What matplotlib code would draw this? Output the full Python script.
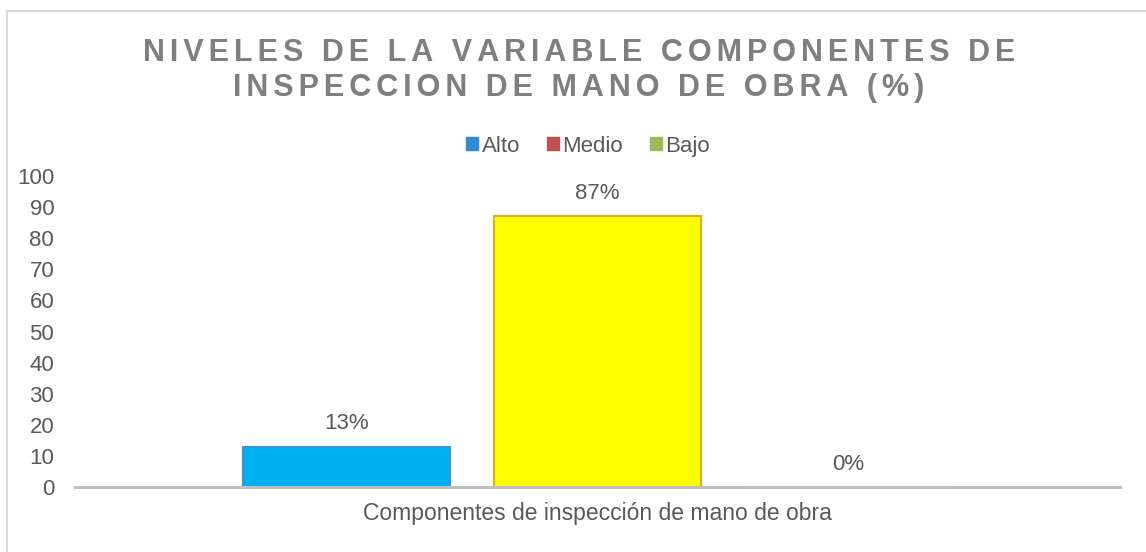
import numpy as np
import matplotlib
matplotlib.use('Agg')
import matplotlib.pyplot as plt
from matplotlib.patches import Rectangle

# datos del grafico
series = ['Alto', 'Medio', 'Bajo']
valores = [13, 87, 0]
categoria = 'Componentes de inspección de mano de obra'
titulo_l1 = 'NIVELES DE LA VARIABLE COMPONENTES DE'
titulo_l2 = 'INSPECCION DE MANO DE OBRA (%)'
yticks = [0, 10, 20, 30, 40, 50, 60, 70, 80, 90, 100]

bar_colors = ['#00B0F0', '#FFFF00', '#9BBB59']
bar_edges = ['#3A96D6', '#E2A92A', '#9BBB59']
legend_colors = ['#2E8BD0', '#C0504D', '#9BBB59']

plt.rcParams['font.family'] = ['Liberation Sans', 'DejaVu Sans']
txt_color = '#595959'

def spaced(s):
    # espaciado entre letras
    return '\u200a\u200a'.join(list(s))

fig = plt.figure(figsize=(11.46, 5.52), dpi=100)
ax = fig.add_axes([75/1146, 65/552, (1120-75)/1146, (487-176)/552])

pos = np.arange(len(series)) - 1
w = 0.825
for i in range(len(series)):
    ax.bar(pos[i], valores[i], width=w, color=bar_colors[i],
           edgecolor=bar_edges[i], linewidth=1.5, zorder=2)
    ax.annotate(f'{valores[i]}%', (pos[i], valores[i]), xytext=(0, 16.5),
                textcoords='offset points', ha='center', va='center',
                fontsize=16, color=txt_color)

ax.set_xlim(-2.082, 2.082)
ax.set_ylim(0, 100)
ax.set_yticks(yticks)
ax.set_xticks([0])
ax.set_xticklabels([categoria])
ax.tick_params(axis='y', length=0, pad=15, labelsize=16, colors=txt_color)
ax.tick_params(axis='x', length=0, pad=11, labelsize=16.5, colors=txt_color)
for sp in ['top', 'right', 'left']:
    ax.spines[sp].set_visible(False)
ax.spines['bottom'].set_color('#BFBFBF')
ax.spines['bottom'].set_linewidth(2.2)
ax.spines['bottom'].set_zorder(3)

handles = [Rectangle((0, 0), 1, 1, color=c) for c in legend_colors]
fig.legend(handles, series, loc='center', bbox_to_anchor=(588/1146, 1-146/552),
           ncol=3, frameon=False, fontsize=16, handlelength=0.56, handleheight=0.56,
           handletextpad=0.15, columnspacing=1.2, labelcolor=txt_color)

fig.text(579/1146, 1-53/552, spaced(titulo_l1), ha='center', va='center',
         fontsize=22, fontweight='bold', color='#7F7F7F')
fig.text(579/1146, 1-88/552, spaced(titulo_l2), ha='center', va='center',
         fontsize=22, fontweight='bold', color='#7F7F7F')

# marco del area del grafico
fig.patches.append(Rectangle((7/1146, -0.1), 1.2, 1.1 - 11/552, transform=fig.transFigure,
                             fill=False, edgecolor='#D9D9D9', linewidth=1.5))

fig.savefig('out.png', dpi=100)
